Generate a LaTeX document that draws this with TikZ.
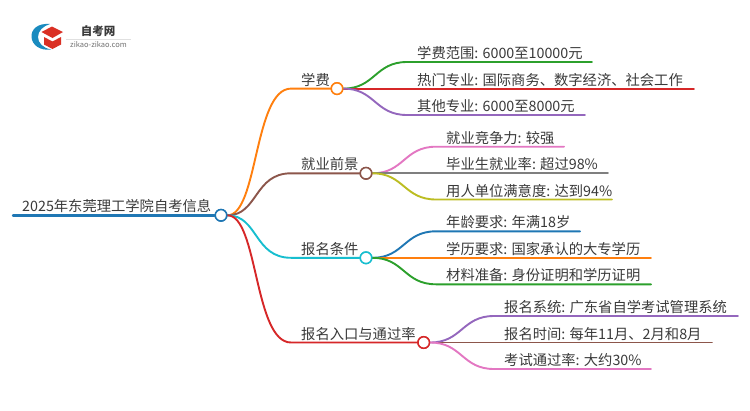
\documentclass[tikz,border=0pt]{standalone}
\usepackage{fontspec}
\setmainfont{Noto Sans CJK SC}
\definecolor{cblue}{HTML}{1F77B4}
\definecolor{corange}{HTML}{FF7F0E}
\definecolor{cgreen}{HTML}{2CA02C}
\definecolor{cred}{HTML}{D62728}
\definecolor{cpurple}{HTML}{9467BD}
\definecolor{cbrown}{HTML}{8C564B}
\definecolor{cpink}{HTML}{E377C2}
\definecolor{cgray}{HTML}{7F7F7F}
\definecolor{colive}{HTML}{BCBD22}
\definecolor{ccyan}{HTML}{17BECF}
\definecolor{ctext}{HTML}{3A3A3A}
\tikzset{
  lab/.style={anchor=base west,inner sep=0pt,text=ctext,yshift=0.8pt,font=\fontsize{14.3pt}{16pt}\selectfont},
  hub/.style={circle,draw=#1,fill=white,line width=1.5pt,minimum size=11.5pt,inner sep=0pt},
  link/.style={draw=#1,line width=1.9pt,line cap=round},
}
\begin{document}
\begin{tikzpicture}[x=1pt,y=-1pt]
\path[use as bounding box,fill=white] (0,0) rectangle (750,410);

% logo
\fill[cblue!85!cyan] (50,24) .. controls (38,23) and (31,29) .. (31.5,37) .. controls (32,45) and (40,51) .. (51,49.5) .. controls (43,48) and (38,43) .. (38,37) .. controls (38,31) and (43,26) .. (50,24) -- cycle;
\fill[cred!90!orange] (41.5,32) -- (52,26.5) -- (63,32) -- (52.5,38) -- cycle;
\fill[cred!90!orange] (44,37) -- (52.5,41.5) -- (61,37) -- (61,44.5) -- (52.5,49) -- (44,44.5) -- cycle;
\node[anchor=center,inner sep=0pt,text=ctext,font=\fontsize{11.5pt}{13pt}\selectfont\bfseries] (logotitle) at (98,31) {自考网};
\draw[black!12,line width=0.7pt] (66,39) -- (130.5,39);
\node[anchor=center,inner sep=0pt,text=black!55,font=\fontsize{7.5pt}{9pt}\selectfont] (logourl) at (98.5,45) {zikao-zikao.com};

% hubs
\node[hub=cblue] (root) at (221,215.3) {};
\node[hub=corange] (h1) at (337,88.6) {};
\node[hub=cbrown] (h2) at (366,173.3) {};
\node[hub=ccyan] (h3) at (366,257.8) {};
\node[hub=cred] (h4) at (423.7,342.5) {};

% flat ends
\coordinate (r0) at (13,215.3);
\coordinate (a1) at (291,88.6); \coordinate (a2) at (291,173.3); \coordinate (a3) at (291,257.8); \coordinate (a4) at (291,342.5);
\coordinate (b1s) at (407,62); \coordinate (b1e) at (592,62);
\coordinate (b2e) at (694,88.6);
\coordinate (b3s) at (407,115); \coordinate (b3e) at (585,115);
\coordinate (c1s) at (436,146.7); \coordinate (c1e) at (564,146.7);
\coordinate (c2e) at (608,173.3);
\coordinate (c3s) at (436,199.5); \coordinate (c3e) at (612,199.5);
\coordinate (d1s) at (436,231.3); \coordinate (d1e) at (580,231.3);
\coordinate (d2e) at (651,257.8);
\coordinate (d3s) at (436,284.3); \coordinate (d3e) at (651,284.3);
\coordinate (e1s) at (494,316); \coordinate (e1e) at (738,316);
\coordinate (e2e) at (712,342.5);
\coordinate (e3s) at (494,369); \coordinate (e3e) at (651,369);

\draw[link=cblue,line width=2.4pt] (r0) -- (root.west);
\draw[link=corange] (root.east) .. controls (258,215.3) and (254,88.6) .. (a1) -- (h1.west);
\draw[link=cbrown] (root.east) .. controls (258,215.3) and (254,173.3) .. (a2) -- (h2.west);
\draw[link=ccyan] (root.east) .. controls (258,215.3) and (254,257.8) .. (a3) -- (h3.west);
\draw[link=cred] (root.east) .. controls (258,215.3) and (254,342.5) .. (a4) -- (h4.west);

\draw[link=cgreen] (h1.east) .. controls (375,88.6) and (375,62) .. (b1s) -- (b1e);
\draw[link=cred] (h1.east) -- (b2e);
\draw[link=cpurple] (h1.east) .. controls (375,88.6) and (375,115) .. (b3s) -- (b3e);

\draw[link=cpink] (h2.east) .. controls (404,173.3) and (404,146.7) .. (c1s) -- (c1e);
\draw[link=cgray] (h2.east) -- (c2e);
\draw[link=colive] (h2.east) .. controls (404,173.3) and (404,199.5) .. (c3s) -- (c3e);

\draw[link=cblue] (h3.east) .. controls (404,257.8) and (404,231.3) .. (d1s) -- (d1e);
\draw[link=corange] (h3.east) -- (d2e);
\draw[link=cgreen] (h3.east) .. controls (404,257.8) and (404,284.3) .. (d3s) -- (d3e);

\draw[link=cpurple] (h4.east) .. controls (462,342.5) and (462,316) .. (e1s) -- (e1e);
\draw[link=cbrown] (h4.east) -- (e2e);
\draw[link=cpink] (h4.east) .. controls (462,342.5) and (462,369) .. (e3s) -- (e3e);

% hubs again, over the connector ends
\node[hub=cblue] at (root) {};
\node[hub=corange] at (h1) {};
\node[hub=cbrown] at (h2) {};
\node[hub=ccyan] at (h3) {};
\node[hub=cred] at (h4) {};

% labels
\node[lab] (troot) at (22,212.7) {2025年东莞理工学院自考信息};
\node[lab] (t1) at (301,86) {学费};
\node[lab] (t2) at (301,170.7) {就业前景};
\node[lab] (t3) at (301,255.2) {报名条件};
\node[lab] (t4) at (301,339.9) {报名入口与通过率};
\node[lab] (b1) at (417,59.4) {学费范围: 6000至10000元};
\node[lab] (b2) at (417,86) {热门专业: 国际商务、数字经济、社会工作};
\node[lab] (b3) at (417,112.4) {其他专业: 6000至8000元};
\node[lab] (c1) at (446,144.1) {就业竞争力: 较强};
\node[lab] (c2) at (446,170.7) {毕业生就业率: 超过98\%};
\node[lab] (c3) at (446,196.9) {用人单位满意度: 达到94\%};
\node[lab] (d1) at (446,228.7) {年龄要求: 年满18岁};
\node[lab] (d2) at (446,255.2) {学历要求: 国家承认的大专学历};
\node[lab] (d3) at (446,281.7) {材料准备: 身份证明和学历证明};
\node[lab] (e1) at (504,313.4) {报名系统: 广东省自学考试管理系统};
\node[lab] (e2) at (504,339.9) {报名时间: 每年11月、2月和8月};
\node[lab] (e3) at (504,366.4) {考试通过率: 大约30\%};
\end{tikzpicture}
\end{document}
